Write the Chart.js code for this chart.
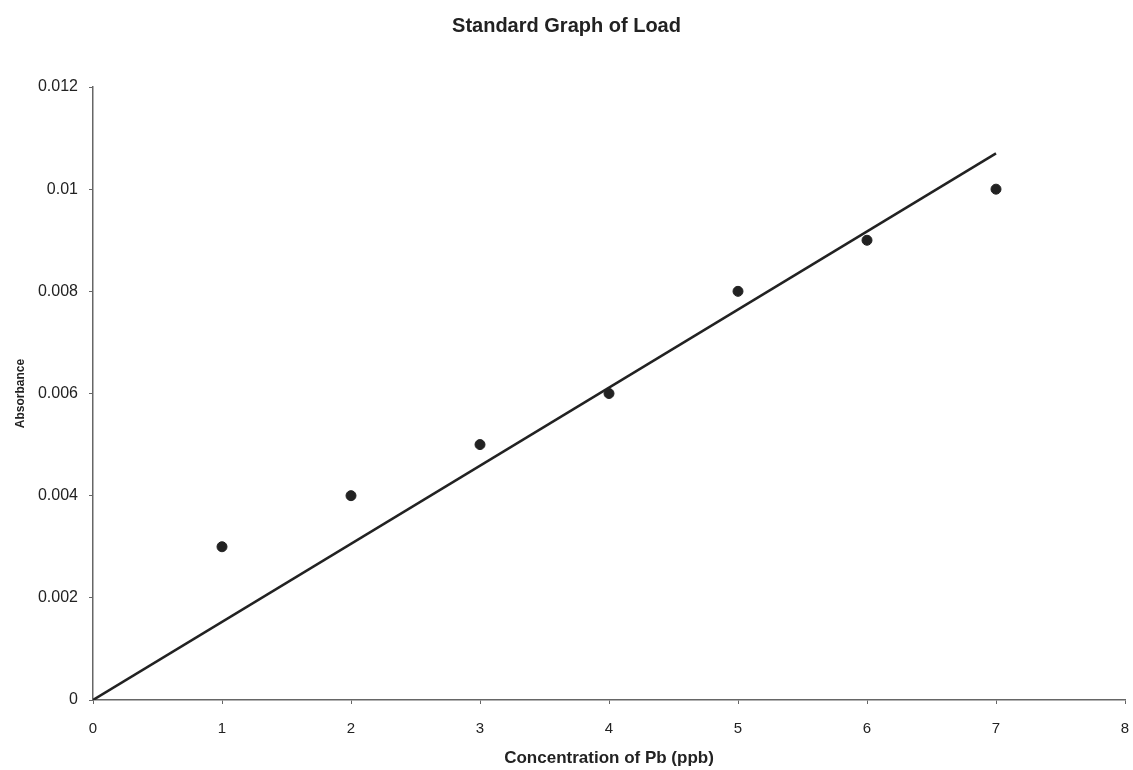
<!DOCTYPE html>
<html>
<head>
<meta charset="utf-8">
<script src="https://cdn.jsdelivr.net/npm/chart.js@4"></script>
<style>
    html, body { margin: 0; padding: 0; background: #fff; }
    #wrap { width: 1133px; height: 770px; }
</style>
</head>
<body>
<div id="wrap"><canvas id="leadChart" width="1133" height="770"></canvas></div>
<script>
// Measured standards
const concentration = [1, 2, 3, 4, 5, 6, 7];
const absorbance = [0.003, 0.004, 0.005, 0.006, 0.008, 0.009, 0.01];

// Linear trendline through origin (end points)
const trendX = [0, 7];
const trendY = [0, 0.0107];

const xTicks = [0, 1, 2, 3, 4, 5, 6, 7, 8];
const yTicks = [0, 0.002, 0.004, 0.006, 0.008, 0.01, 0.012];

const ink = '#222222';
const axisGray = '#666666';
const fontFamily = '"Liberation Sans", Arial, sans-serif';

const ctx = document.getElementById('leadChart').getContext('2d');

new Chart(ctx, {
    type: 'scatter',
    data: {
        datasets: [
            {
                label: 'Absorbance',
                data: concentration.map((x, i) => ({ x: x, y: absorbance[i] })),
                backgroundColor: ink,
                borderColor: ink,
                pointRadius: 5,
                showLine: false
            },
            {
                label: 'Linear',
                data: trendX.map((x, i) => ({ x: x, y: trendY[i] })),
                borderColor: ink,
                borderWidth: 2.5,
                pointRadius: 0,
                showLine: true,
                fill: false
            }
        ]
    },
    options: {
        responsive: false,
        animation: false,
        layout: { padding: { left: 0, right: 0, top: 0, bottom: 0 } },
        plugins: {
            legend: { display: false },
            tooltip: { enabled: false },
            title: {
                display: true,
                text: 'Standard Graph of Load',
                color: ink,
                font: { family: fontFamily, size: 20, weight: 'bold' },
                padding: { top: 14, bottom: 49 }
            }
        },
        scales: {
            x: {
                type: 'linear',
                min: 0,
                max: 8,
                afterBuildTicks: (scale) => { scale.ticks = xTicks.map(v => ({ value: v })); },
                afterFit: (scale) => {
                    scale.height = 70;
                    scale.paddingLeft = 0;
                    scale.paddingRight = 8;
                },
                grid: { display: true, drawOnChartArea: false, tickLength: 4, color: axisGray },
                border: { display: true, color: axisGray, width: 1.5 },
                ticks: {
                    color: ink,
                    padding: 16,
                    font: { family: fontFamily, size: 15 }
                },
                title: {
                    display: true,
                    text: 'Concentration of Pb (ppb)',
                    color: ink,
                    font: { family: fontFamily, size: 17, weight: 'bold' },
                    padding: { top: 0, bottom: 1 }
                }
            },
            y: {
                type: 'linear',
                min: 0,
                max: 0.012,
                afterBuildTicks: (scale) => { scale.ticks = yTicks.map(v => ({ value: v })); },
                afterFit: (scale) => { scale.width = 93; },
                grid: { display: true, drawOnChartArea: false, tickLength: 4, color: axisGray },
                border: { display: true, color: axisGray, width: 1.5 },
                ticks: {
                    color: ink,
                    padding: 11,
                    font: { family: fontFamily, size: 16 },
                    callback: (value) => String(value)
                },
                title: {
                    display: true,
                    text: 'Absorbance',
                    color: ink,
                    font: { family: fontFamily, size: 12, weight: 'bold' },
                    padding: { top: 13, bottom: 0 }
                }
            }
        }
    }
});
</script>
</body>
</html>
